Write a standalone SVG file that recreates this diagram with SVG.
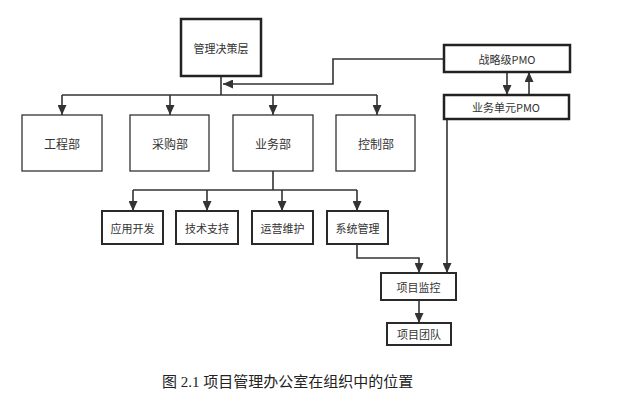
<svg xmlns="http://www.w3.org/2000/svg" width="620" height="401" viewBox="0 0 620 401">
<defs>
<marker id="ah" markerUnits="userSpaceOnUse" markerWidth="10" markerHeight="9" refX="10" refY="4.5" orient="auto">
<path d="M0,0 L10,4.5 L0,9 z" fill="#333"/>
</marker>
<style>
.box{fill:#fff;stroke:#2a2a2a;stroke-width:2}
.thin{fill:#fff;stroke:#333;stroke-width:1.3}
.thick{fill:#fff;stroke:#222;stroke-width:2.5}
.lbl{font-family:"Noto Sans CJK SC","Noto Sans",sans-serif;font-size:11px;fill:#333;text-anchor:middle;dominant-baseline:central}
.dl{font-size:12px}
.ln{fill:none;stroke:#333;stroke-width:1.6}
.ar{marker-end:url(#ah)}
.cap{font-family:"Liberation Serif","Noto Sans CJK SC",serif;font-size:15px;fill:#222}
</style>
</defs>
<rect width="620" height="401" fill="#fff"/>
<g id="connectors">
<path class="ln ar" d="M444,59 H333 V84 H223"/>
<path class="ln" d="M221,76 V95"/>
<path class="ln" d="M62,95 H377"/>
<path class="ln ar" d="M62,95 V115"/>
<path class="ln ar" d="M170,95 V115"/>
<path class="ln ar" d="M273,95 V115"/>
<path class="ln ar" d="M377,95 V115"/>
<path class="ln ar" d="M507,72 V95"/>
<path class="ln ar" d="M529,95 V72"/>
<path class="ln" d="M273,171 V190"/>
<path class="ln" d="M133,190 H357"/>
<path class="ln ar" d="M133,190 V211"/>
<path class="ln ar" d="M207,190 V211"/>
<path class="ln ar" d="M282,190 V211"/>
<path class="ln ar" d="M357,190 V211"/>
<path class="ln ar" d="M357,244 V258 H419 V273"/>
<path class="ln ar" d="M447,119 V273"/>
<path class="ln ar" d="M419,300 V323"/>
</g>
<g id="n-top"><rect class="thick" x="181" y="19" width="80" height="57"/><text class="lbl" x="221" y="48">管理决策层</text></g>
<g id="n-spmo"><rect class="thick" x="444" y="45" width="126" height="27"/><text class="lbl" x="507" y="59">战略级PMO</text></g>
<g id="n-bpmo"><rect class="thick" x="444" y="95" width="125" height="24"/><text class="lbl" x="506" y="107">业务单元PMO</text></g>
<g id="n-gc"><rect class="thin" x="22" y="115" width="80" height="56"/><text class="lbl dl" x="62" y="143">工程部</text></g>
<g id="n-cg"><rect class="thin" x="130" y="115" width="79" height="56"/><text class="lbl dl" x="170" y="143">采购部</text></g>
<g id="n-yw"><rect class="thin" x="233" y="115" width="80" height="56"/><text class="lbl dl" x="273" y="143">业务部</text></g>
<g id="n-kz"><rect class="thin" x="336" y="115" width="79" height="56"/><text class="lbl dl" x="376" y="143">控制部</text></g>
<g id="n-yy"><rect class="box" x="102" y="211" width="61" height="33"/><text class="lbl" x="132.5" y="227.5">应用开发</text></g>
<g id="n-js"><rect class="box" x="176" y="211" width="62" height="33"/><text class="lbl" x="207" y="227.5">技术支持</text></g>
<g id="n-yyw"><rect class="box" x="252" y="211" width="61" height="33"/><text class="lbl" x="282.5" y="227.5">运营维护</text></g>
<g id="n-xt"><rect class="box" x="327" y="211" width="61" height="33"/><text class="lbl" x="357.5" y="227.5">系统管理</text></g>
<g id="n-jk"><rect class="box" x="381" y="273" width="75" height="27"/><text class="lbl" x="418.5" y="286.5">项目监控</text></g>
<g id="n-td"><rect class="box" x="387" y="323" width="64" height="22"/><text class="lbl" x="419" y="334">项目团队</text></g>
<text class="cap" x="162" y="387">图 2.1 项目管理办公室在组织中的位置</text>
</svg>
